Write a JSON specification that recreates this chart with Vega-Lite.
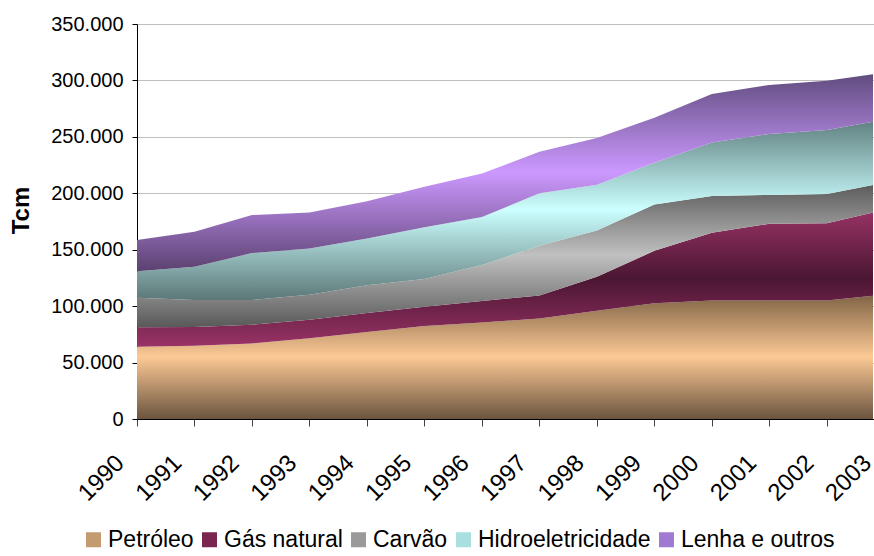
{
  "$schema": "https://vega.github.io/schema/vega-lite/v6.json",
  "autosize": {"type": "none"},
  "padding": {"left": 137, "top": 24, "right": 1, "bottom": 137},
  "width": 736,
  "height": 395,
  "background": "white",
  "data": {"values": [
    {"ano": 1990, "fonte": "Petróleo", "valor": 64000},
    {"ano": 1991, "fonte": "Petróleo", "valor": 65000},
    {"ano": 1992, "fonte": "Petróleo", "valor": 67000},
    {"ano": 1993, "fonte": "Petróleo", "valor": 71500},
    {"ano": 1994, "fonte": "Petróleo", "valor": 77000},
    {"ano": 1995, "fonte": "Petróleo", "valor": 82500},
    {"ano": 1996, "fonte": "Petróleo", "valor": 85500},
    {"ano": 1997, "fonte": "Petróleo", "valor": 89000},
    {"ano": 1998, "fonte": "Petróleo", "valor": 96000},
    {"ano": 1999, "fonte": "Petróleo", "valor": 102500},
    {"ano": 2000, "fonte": "Petróleo", "valor": 105000},
    {"ano": 2001, "fonte": "Petróleo", "valor": 105000},
    {"ano": 2002, "fonte": "Petróleo", "valor": 105000},
    {"ano": 2003, "fonte": "Petróleo", "valor": 110300},
    {"ano": 1990, "fonte": "Gás natural", "valor": 17200},
    {"ano": 1991, "fonte": "Gás natural", "valor": 16500},
    {"ano": 1992, "fonte": "Gás natural", "valor": 16500},
    {"ano": 1993, "fonte": "Gás natural", "valor": 16500},
    {"ano": 1994, "fonte": "Gás natural", "valor": 17000},
    {"ano": 1995, "fonte": "Gás natural", "valor": 17000},
    {"ano": 1996, "fonte": "Gás natural", "valor": 19000},
    {"ano": 1997, "fonte": "Gás natural", "valor": 20500},
    {"ano": 1998, "fonte": "Gás natural", "valor": 30000},
    {"ano": 1999, "fonte": "Gás natural", "valor": 46500},
    {"ano": 2000, "fonte": "Gás natural", "valor": 60000},
    {"ano": 2001, "fonte": "Gás natural", "valor": 68000},
    {"ano": 2002, "fonte": "Gás natural", "valor": 68500},
    {"ano": 2003, "fonte": "Gás natural", "valor": 75100},
    {"ano": 1990, "fonte": "Carvão", "valor": 26300},
    {"ano": 1991, "fonte": "Carvão", "valor": 23900},
    {"ano": 1992, "fonte": "Carvão", "valor": 21900},
    {"ano": 1993, "fonte": "Carvão", "valor": 22000},
    {"ano": 1994, "fonte": "Carvão", "valor": 24500},
    {"ano": 1995, "fonte": "Carvão", "valor": 24500},
    {"ano": 1996, "fonte": "Carvão", "valor": 31900},
    {"ano": 1997, "fonte": "Carvão", "valor": 44000},
    {"ano": 1998, "fonte": "Carvão", "valor": 41000},
    {"ano": 1999, "fonte": "Carvão", "valor": 41000},
    {"ano": 2000, "fonte": "Carvão", "valor": 32600},
    {"ano": 2001, "fonte": "Carvão", "valor": 25500},
    {"ano": 2002, "fonte": "Carvão", "valor": 25900},
    {"ano": 2003, "fonte": "Carvão", "valor": 23900},
    {"ano": 1990, "fonte": "Hidroeletricidade", "valor": 23500},
    {"ano": 1991, "fonte": "Hidroeletricidade", "valor": 29600},
    {"ano": 1992, "fonte": "Hidroeletricidade", "valor": 41600},
    {"ano": 1993, "fonte": "Hidroeletricidade", "valor": 41000},
    {"ano": 1994, "fonte": "Hidroeletricidade", "valor": 41500},
    {"ano": 1995, "fonte": "Hidroeletricidade", "valor": 46000},
    {"ano": 1996, "fonte": "Hidroeletricidade", "valor": 42600},
    {"ano": 1997, "fonte": "Hidroeletricidade", "valor": 46500},
    {"ano": 1998, "fonte": "Hidroeletricidade", "valor": 40500},
    {"ano": 1999, "fonte": "Hidroeletricidade", "valor": 37000},
    {"ano": 2000, "fonte": "Hidroeletricidade", "valor": 47400},
    {"ano": 2001, "fonte": "Hidroeletricidade", "valor": 54000},
    {"ano": 2002, "fonte": "Hidroeletricidade", "valor": 56600},
    {"ano": 2003, "fonte": "Hidroeletricidade", "valor": 56000},
    {"ano": 1990, "fonte": "Lenha e outros", "valor": 27600},
    {"ano": 1991, "fonte": "Lenha e outros", "valor": 31000},
    {"ano": 1992, "fonte": "Lenha e outros", "valor": 33700},
    {"ano": 1993, "fonte": "Lenha e outros", "valor": 32000},
    {"ano": 1994, "fonte": "Lenha e outros", "valor": 33000},
    {"ano": 1995, "fonte": "Lenha e outros", "valor": 35800},
    {"ano": 1996, "fonte": "Lenha e outros", "valor": 38500},
    {"ano": 1997, "fonte": "Lenha e outros", "valor": 36800},
    {"ano": 1998, "fonte": "Lenha e outros", "valor": 41500},
    {"ano": 1999, "fonte": "Lenha e outros", "valor": 40000},
    {"ano": 2000, "fonte": "Lenha e outros", "valor": 43000},
    {"ano": 2001, "fonte": "Lenha e outros", "valor": 43500},
    {"ano": 2002, "fonte": "Lenha e outros", "valor": 43700},
    {"ano": 2003, "fonte": "Lenha e outros", "valor": 41500}
  ]},
  "transform": [
    {"stack": "valor", "groupby": ["ano"], "as": ["base", "topo"]}
  ],
  "encoding": {
    "x": {
      "field": "ano", "type": "quantitative",
      "scale": {"domain": [1990, 2003], "range": [0, 747.3], "nice": false, "zero": false},
      "axis": {
        "values": [1990, 1991, 1992, 1993, 1994, 1995, 1996, 1997, 1998, 1999, 2000, 2001, 2002, 2003],
        "format": "d", "labelAngle": -45, "labelAlign": "right", "labelBaseline": "middle",
        "labelFontSize": 24, "labelFont": "Liberation Sans", "labelColor": "#000",
        "labelPadding": 33, "labelOffset": -17, "labelOverlap": false, "labelBound": false, "labelFlush": false,
        "tickSize": 7, "tickColor": "#444", "tickWidth": 1, "domainColor": "#000", "domainWidth": 1,
        "grid": false, "title": null
      }
    },
    "y": {
      "field": "topo", "type": "quantitative",
      "scale": {"domain": [0, 350000], "nice": false},
      "axis": {
        "values": [0, 50000, 100000, 150000, 200000, 250000, 300000, 350000],
        "labelExpr": "replace(format(datum.value, ','), ',', '.')",
        "labelFontSize": 20, "labelFont": "Liberation Sans", "labelColor": "#000", "labelPadding": 9,
        "tickSize": 5, "tickColor": "#000", "domainColor": "#000", "domainWidth": 1,
        "grid": true, "gridColor": "#c0c0c0", "gridWidth": 1,
        "title": "Tcm", "titleFont": "Liberation Sans", "titleFontSize": 24, "titleFontWeight": "bold", "titleColor": "#000",
        "titleAngle": 270, "titleX": -116, "titleY": 186, "titleAlign": "center", "titleBaseline": "middle"
      }
    },
    "y2": {"field": "base"}
  },
  "layer": [
    {
      "transform": [{"filter": "datum.fonte === 'Petróleo'"}],
      "mark": {"type": "area", "clip": true, "strokeWidth": 0,
        "color": {"gradient": "linear", "x1": 0, "y1": 0, "x2": 0, "y2": 1, "stops": [{"offset": 0, "color": "#7f6345"}, {"offset": 0.5, "color": "#fcc995"}, {"offset": 1, "color": "#6b543e"}]}}
    },
    {
      "transform": [{"filter": "datum.fonte === 'Gás natural'"}],
      "mark": {"type": "area", "clip": true, "strokeWidth": 0,
        "color": {"gradient": "linear", "x1": 0, "y1": 0, "x2": 0, "y2": 1, "stops": [{"offset": 0, "color": "#993366"}, {"offset": 0.5, "color": "#4b1632"}, {"offset": 1, "color": "#993366"}]}}
    },
    {
      "transform": [{"filter": "datum.fonte === 'Carvão'"}],
      "mark": {"type": "area", "clip": true, "strokeWidth": 0,
        "color": {"gradient": "linear", "x1": 0, "y1": 0, "x2": 0, "y2": 1, "stops": [{"offset": 0, "color": "#595959"}, {"offset": 0.5, "color": "#c0c0c0"}, {"offset": 1, "color": "#595959"}]}}
    },
    {
      "transform": [{"filter": "datum.fonte === 'Hidroeletricidade'"}],
      "mark": {"type": "area", "clip": true, "strokeWidth": 0,
        "color": {"gradient": "linear", "x1": 0, "y1": 0, "x2": 0, "y2": 1, "stops": [{"offset": 0, "color": "#5f7f7f"}, {"offset": 0.5, "color": "#ccffff"}, {"offset": 1, "color": "#5c7777"}]}}
    },
    {
      "transform": [{"filter": "datum.fonte === 'Lenha e outros'"}],
      "mark": {"type": "area", "clip": true, "strokeWidth": 0,
        "color": {"gradient": "linear", "x1": 0, "y1": 0, "x2": 0, "y2": 1, "stops": [{"offset": 0, "color": "#5f4b7d"}, {"offset": 0.5, "color": "#cc99ff"}, {"offset": 1, "color": "#5b4170"}]}}
    },
    {
      "mark": {"type": "area", "opacity": 0, "clip": true},
      "encoding": {
        "color": {
          "field": "fonte", "type": "nominal",
          "sort": ["Petróleo", "Gás natural", "Carvão", "Hidroeletricidade", "Lenha e outros"],
          "scale": {
            "domain": ["Petróleo", "Gás natural", "Carvão", "Hidroeletricidade", "Lenha e outros"],
            "range": ["#c49a70", "#7a2550", "#9a9a9a", "#a8e0e0", "#a07ad0"]
          },
          "legend": {
            "orient": "none", "legendX": -55, "legendY": 504, "direction": "horizontal", "title": null,
            "symbolType": "square", "symbolSize": 225, "symbolStrokeWidth": 0, "symbolOpacity": 1,
            "labelFontSize": 23, "labelFont": "Liberation Sans", "labelColor": "#000", "labelOffset": 3,
            "columnPadding": 4, "padding": 0, "labelLimit": 400
          }
        }
      }
    }
  ],
  "config": {"view": {"stroke": null}}
}
